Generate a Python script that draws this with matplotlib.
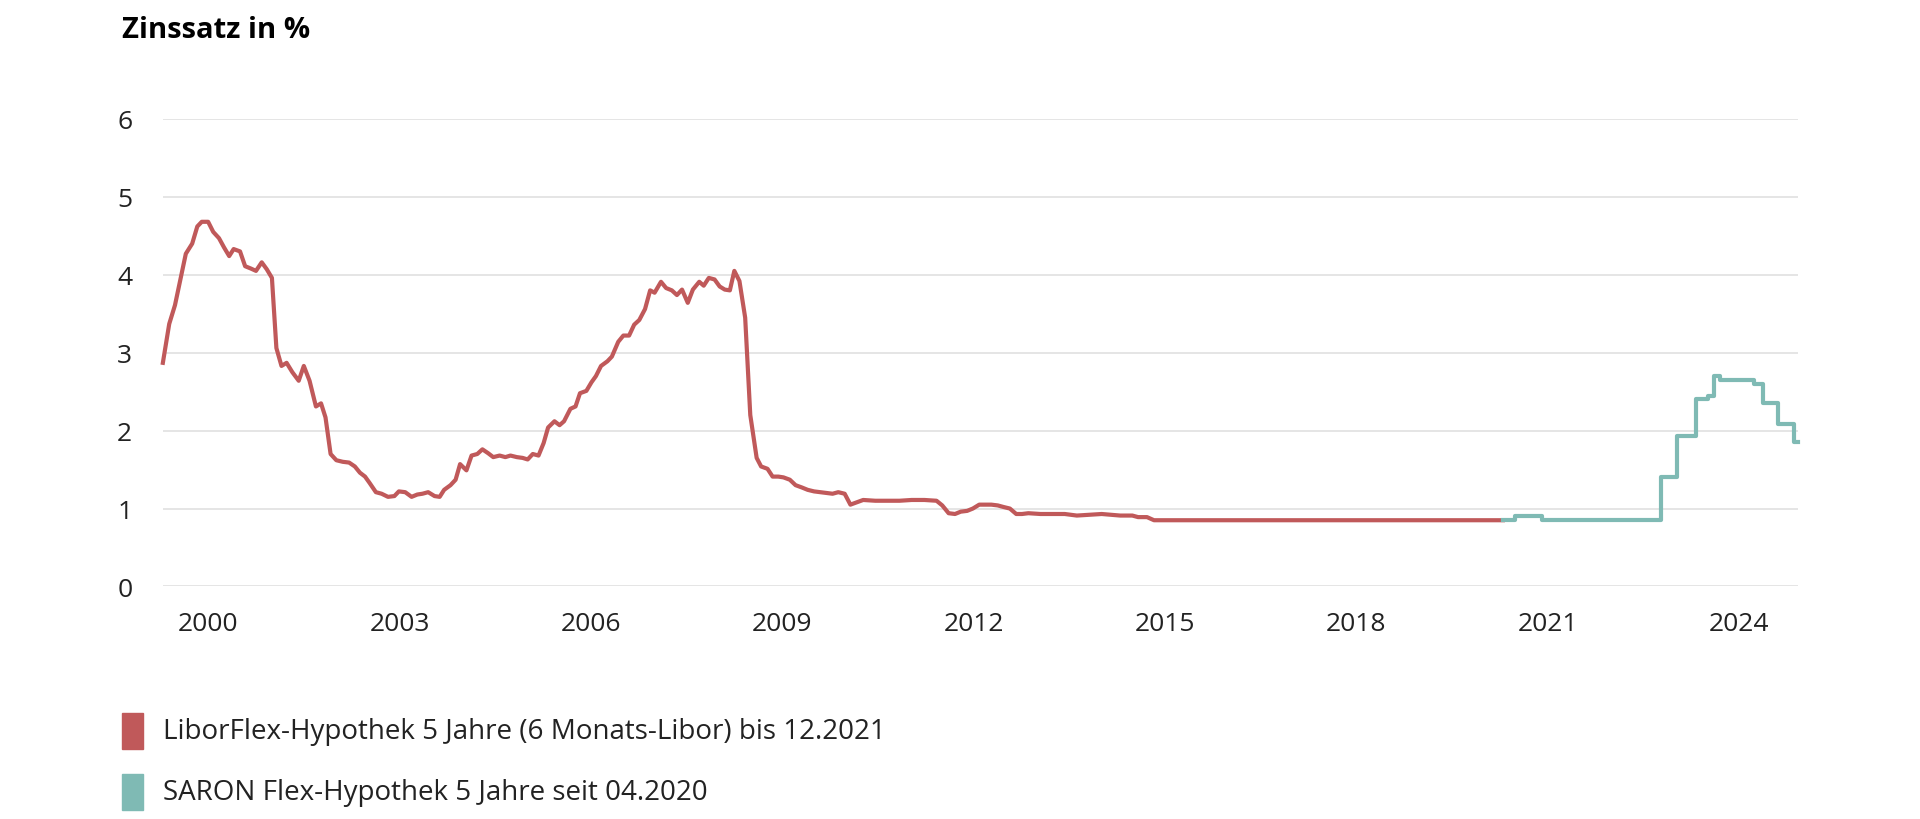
import matplotlib
matplotlib.use("Agg")
import matplotlib.pyplot as plt
from matplotlib.patches import Rectangle

plt.rcParams["font.family"] = "Open Sans"

libor_years = [1999.29,1999.39,1999.48,1999.58,1999.65,1999.75,1999.83,1999.90,2000.00,2000.08,2000.17,2000.25,2000.33,2000.40,2000.50,2000.58,2000.67,2000.75,2000.84,2000.92,2001.00,2001.07,2001.15,2001.23,2001.32,2001.42,2001.50,2001.59,2001.69,2001.77,2001.84,2001.92,2002.01,2002.11,2002.21,2002.30,2002.38,2002.46,2002.53,2002.63,2002.72,2002.82,2002.92,2002.99,2003.09,2003.19,2003.28,2003.36,2003.45,2003.55,2003.63,2003.70,2003.80,2003.88,2003.95,2004.05,2004.13,2004.22,2004.30,2004.39,2004.47,2004.57,2004.66,2004.74,2004.84,2004.93,2005.01,2005.09,2005.18,2005.26,2005.33,2005.43,2005.51,2005.58,2005.68,2005.76,2005.83,2005.93,2006.01,2006.08,2006.16,2006.26,2006.33,2006.43,2006.51,2006.60,2006.68,2006.76,2006.85,2006.93,2007.00,2007.10,2007.18,2007.27,2007.35,2007.43,2007.52,2007.60,2007.70,2007.77,2007.85,2007.94,2008.02,2008.10,2008.18,2008.25,2008.33,2008.42,2008.50,2008.60,2008.67,2008.77,2008.85,2008.94,2009.02,2009.12,2009.21,2009.31,2009.40,2009.50,2009.60,2009.79,2009.88,2009.98,2010.07,2010.17,2010.27,2010.46,2010.84,2011.03,2011.23,2011.42,2011.51,2011.61,2011.71,2011.80,2011.90,2011.99,2012.09,2012.28,2012.38,2012.47,2012.57,2012.67,2012.76,2012.86,2013.05,2013.43,2013.62,2014.01,2014.30,2014.49,2014.58,2014.72,2014.83,2020.30]
libor_values = [2.87,3.37,3.61,4.00,4.27,4.40,4.62,4.68,4.68,4.55,4.47,4.35,4.24,4.33,4.30,4.11,4.08,4.05,4.16,4.07,3.96,3.06,2.83,2.87,2.75,2.64,2.83,2.64,2.31,2.35,2.17,1.70,1.62,1.60,1.59,1.54,1.46,1.41,1.33,1.21,1.19,1.15,1.16,1.22,1.21,1.15,1.18,1.19,1.21,1.16,1.15,1.24,1.30,1.37,1.57,1.49,1.68,1.70,1.76,1.71,1.66,1.68,1.66,1.68,1.66,1.65,1.63,1.70,1.68,1.84,2.04,2.12,2.07,2.12,2.28,2.31,2.48,2.51,2.62,2.70,2.83,2.89,2.95,3.14,3.22,3.22,3.36,3.42,3.56,3.80,3.77,3.91,3.83,3.80,3.74,3.81,3.64,3.81,3.91,3.86,3.96,3.94,3.85,3.81,3.80,4.05,3.92,3.45,2.20,1.65,1.54,1.51,1.41,1.41,1.40,1.37,1.30,1.27,1.24,1.22,1.21,1.19,1.21,1.19,1.05,1.08,1.11,1.10,1.10,1.11,1.11,1.10,1.04,0.94,0.93,0.96,0.97,1.00,1.05,1.05,1.04,1.02,1.00,0.93,0.93,0.94,0.93,0.93,0.91,0.93,0.91,0.91,0.89,0.89,0.85,0.85]

saron_years = [2020.30,2020.49,2020.91,2022.78,2023.03,2023.32,2023.51,2023.61,2023.71,2024.23,2024.38,2024.61,2024.86,2024.92]
saron_values = [0.85,0.91,0.85,1.40,1.93,2.41,2.45,2.70,2.65,2.60,2.35,2.09,1.85,1.85]

y_ticks = [0, 1, 2, 3, 4, 5, 6]
x_ticks = [2000, 2003, 2006, 2009, 2012, 2015, 2018, 2021, 2024]
title = "Zinssatz in %"
legend_labels = ["LiborFlex-Hypothek 5 Jahre (6 Monats-Libor) bis 12.2021",
                 "SARON Flex-Hypothek 5 Jahre seit 04.2020"]

red = "#c0595a"
teal = "#7fbab4"
W, H = 1568, 670

fig = plt.figure(figsize=(19.2, 8.2), dpi=100)
ax = fig.add_axes([133/W, 1-480/H, (1468-133)/W, (480-98)/H])
ax.set_xlim(1999.29, 2024.92)
ax.set_ylim(0, 6)
ax.plot(libor_years, libor_values, color=red, lw=3, clip_on=False, zorder=3)
ax.plot(saron_years, saron_values, color=teal, lw=3, drawstyle="steps-post", clip_on=False, zorder=3)

ax.set_yticks(y_ticks)
ax.set_xticks(x_ticks)
ax.grid(axis="y", color="#e3e3e3", lw=1.3)
ax.set_axisbelow(True)
for s in ax.spines.values():
    s.set_visible(False)
ax.tick_params(axis="both", length=0, labelsize=19, colors="#222222")
ax.tick_params(axis="y", pad=22)
ax.tick_params(axis="x", pad=18)

fig.text(100/W, 1-25/H, title, fontsize=21, fontweight="bold", va="center", ha="left")
for i, (lab, c) in enumerate(zip(legend_labels, [red, teal])):
    yc = 1 - (598 + i*50)/H
    fig.patches.append(Rectangle((100/W, yc-15/H), 17/W, 30/H, color=c, transform=fig.transFigure))
    fig.text(133/W, yc, lab, fontsize=20, va="center", ha="left", color="#222222")

fig.savefig("out.png", dpi=100)
